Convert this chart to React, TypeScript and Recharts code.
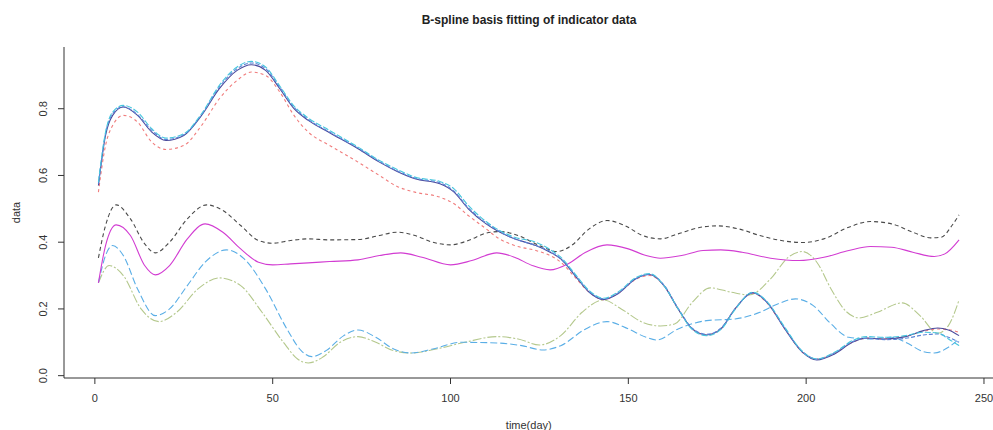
import { LineChart, Line, XAxis, YAxis } from "recharts";

// fitted curves, day -> value
const upperDays = [1, 3, 5, 8, 12, 16, 20, 25, 30, 35, 40, 44, 48, 52, 56, 60, 66, 74, 80, 85, 90, 97, 101, 105, 110, 113, 118, 124, 128, 131, 135, 139, 143, 147, 152, 156, 160, 164, 168, 172, 176, 180, 185, 189, 194, 199, 203, 208, 213, 217, 222, 228, 233, 237, 240, 243];
const navyVals = [0.57, 0.72, 0.78, 0.805, 0.78, 0.73, 0.705, 0.72, 0.78, 0.86, 0.915, 0.932, 0.915, 0.86, 0.8, 0.765, 0.728, 0.68, 0.64, 0.612, 0.59, 0.575, 0.55, 0.5, 0.455, 0.435, 0.41, 0.39, 0.37, 0.35, 0.3, 0.25, 0.228, 0.245, 0.29, 0.303, 0.27, 0.2, 0.14, 0.122, 0.14, 0.2, 0.249, 0.22, 0.14, 0.07, 0.047, 0.065, 0.1, 0.113, 0.11, 0.117, 0.135, 0.143, 0.137, 0.12];
const cyanVals = [0.58, 0.73, 0.79, 0.81, 0.79, 0.74, 0.712, 0.725, 0.785, 0.87, 0.925, 0.942, 0.925, 0.868, 0.808, 0.772, 0.735, 0.685, 0.645, 0.618, 0.595, 0.582, 0.56, 0.51, 0.462, 0.44, 0.415, 0.4, 0.378, 0.355, 0.305, 0.255, 0.232, 0.25, 0.293, 0.306, 0.27, 0.2, 0.138, 0.12, 0.138, 0.198, 0.25, 0.222, 0.145, 0.072, 0.05, 0.07, 0.105, 0.117, 0.115, 0.12, 0.13, 0.128, 0.11, 0.09];
const blueVals = [0.575, 0.725, 0.785, 0.806, 0.782, 0.735, 0.708, 0.722, 0.782, 0.865, 0.92, 0.937, 0.92, 0.864, 0.804, 0.768, 0.73, 0.682, 0.642, 0.614, 0.592, 0.578, 0.553, 0.503, 0.458, 0.437, 0.41, 0.39, 0.372, 0.35, 0.302, 0.252, 0.23, 0.247, 0.29, 0.304, 0.272, 0.202, 0.142, 0.124, 0.142, 0.2, 0.248, 0.22, 0.142, 0.072, 0.05, 0.068, 0.102, 0.112, 0.108, 0.112, 0.122, 0.125, 0.115, 0.1];
const pinkVals = [0.55, 0.69, 0.75, 0.78, 0.76, 0.7, 0.678, 0.69, 0.75, 0.83, 0.885, 0.91, 0.9, 0.85, 0.78, 0.73, 0.69, 0.64, 0.6, 0.567, 0.55, 0.535, 0.515, 0.48, 0.44, 0.415, 0.39, 0.375, 0.36, 0.34, 0.295, 0.25, 0.228, 0.246, 0.288, 0.3, 0.27, 0.2, 0.14, 0.122, 0.14, 0.2, 0.247, 0.218, 0.14, 0.07, 0.05, 0.068, 0.1, 0.112, 0.11, 0.118, 0.133, 0.14, 0.138, 0.13];

const blackDays = [1, 3, 6, 10, 14, 17, 21, 26, 31.5, 36, 41, 46, 50, 55, 60, 66, 74, 80, 85, 90, 95, 100, 105, 110, 114, 119, 125, 130, 134, 139, 144, 149, 154, 159, 164, 170, 175, 181, 187, 193, 199, 205, 212, 218, 224, 230, 235, 238, 241, 243];
const blackVals = [0.353, 0.45, 0.512, 0.47, 0.395, 0.368, 0.4, 0.47, 0.512, 0.495, 0.45, 0.405, 0.397, 0.405, 0.41, 0.407, 0.408, 0.42, 0.43, 0.42, 0.4, 0.392, 0.405, 0.427, 0.432, 0.42, 0.39, 0.372, 0.39, 0.44, 0.465, 0.45, 0.42, 0.41, 0.425, 0.444, 0.449, 0.44, 0.42, 0.405, 0.399, 0.41, 0.445, 0.462, 0.455, 0.43, 0.413, 0.415, 0.45, 0.482];

const magentaDays = [1, 3, 6, 10, 14, 17, 21, 26, 31, 36, 41, 46, 50, 55, 60, 66, 74, 80, 86, 92, 100, 106, 113, 118, 123, 128, 133, 138, 144, 150, 155, 159, 165, 171, 176, 182, 190, 198, 205, 212, 218, 224, 230, 236, 239, 243];
const magentaVals = [0.278, 0.39, 0.452, 0.42, 0.33, 0.302, 0.33, 0.41, 0.455, 0.43, 0.38, 0.34, 0.332, 0.335, 0.338, 0.342, 0.347, 0.36, 0.368, 0.355, 0.332, 0.345, 0.368, 0.355, 0.33, 0.317, 0.335, 0.37, 0.392, 0.38, 0.36, 0.352, 0.36, 0.375, 0.377, 0.37, 0.352, 0.345, 0.355, 0.375, 0.387, 0.385, 0.37, 0.357, 0.365, 0.407];

const greenDays = [1, 4, 8, 13, 18, 23, 29, 35, 41, 47, 53, 57, 60, 64, 69, 74, 79, 84, 89, 96, 104, 113, 119, 125, 131, 137, 143, 148, 154, 159, 163, 168, 173, 179, 184, 190, 195, 199, 203, 207, 211, 215, 220, 227, 232, 237, 240, 243];
const greenVals = [0.278, 0.33, 0.3, 0.2, 0.162, 0.19, 0.26, 0.293, 0.27, 0.19, 0.1, 0.05, 0.038, 0.055, 0.1, 0.117, 0.1, 0.075, 0.068, 0.08, 0.1, 0.117, 0.11, 0.092, 0.12, 0.19, 0.227, 0.2, 0.16, 0.149, 0.155, 0.22, 0.263, 0.25, 0.242, 0.29, 0.355, 0.372, 0.34, 0.26, 0.195, 0.173, 0.19, 0.218, 0.18, 0.127, 0.15, 0.227];

const lightDays = [1, 3, 5, 8, 12, 17, 21, 26, 31, 37, 42, 48, 54, 58, 61, 65, 70, 74, 79, 84, 89, 95, 103, 113, 120, 126, 131, 138, 144, 150, 155, 158, 164, 172, 180, 187, 192, 197, 202, 207, 212, 218, 224, 228, 233, 236, 240, 243];
const lightVals = [0.278, 0.36, 0.39, 0.36, 0.26, 0.18, 0.2, 0.27, 0.34, 0.377, 0.35, 0.26, 0.14, 0.075, 0.057, 0.075, 0.12, 0.137, 0.115, 0.08, 0.068, 0.08, 0.1, 0.098, 0.09, 0.077, 0.09, 0.14, 0.162, 0.14, 0.115, 0.107, 0.14, 0.165, 0.17, 0.19, 0.215, 0.23, 0.21, 0.155, 0.115, 0.11, 0.115, 0.1, 0.072, 0.068, 0.085, 0.11];

const xTicks = [0, 50, 100, 150, 200, 250];
const yTicks = [0, 0.2, 0.4, 0.6, 0.8];

const toPoints = (days: number[], vals: number[]) => days.map((d, i) => ({ day: d, v: vals[i] }));

const series = [
  { key: "green", data: toPoints(greenDays, greenVals), color: "#b4c88c", dash: "9 2 2 2" },
  { key: "light", data: toPoints(lightDays, lightVals), color: "#5aaee6", dash: "7 3" },
  { key: "black", data: toPoints(blackDays, blackVals), color: "#4a4a4a", dash: "4 3" },
  { key: "magenta", data: toPoints(magentaDays, magentaVals), color: "#d23cd2", dash: undefined },
  { key: "pink", data: toPoints(upperDays, pinkVals), color: "#f07c7c", dash: "3 3" },
  { key: "navy", data: toPoints(upperDays, navyVals), color: "#4a4a9c", dash: undefined },
  { key: "blue", data: toPoints(upperDays, blueVals), color: "#5a82d6", dash: "4 2" },
  { key: "cyan", data: toPoints(upperDays, cyanVals), color: "#46c6de", dash: "6 2" },
];

const FONT = "'Liberation Sans', Arial, sans-serif";

const XTick = ({ x, y, payload }: any) => (
  <text x={x} y={y + 16} textAnchor="middle" fontSize={11} fontFamily={FONT} fill="#333">
    {payload.value}
  </text>
);

const YTick = ({ y, payload }: any) => (
  <text x={47} y={y} transform={`rotate(-90 47 ${y})`} textAnchor="middle" fontSize={11} fontFamily={FONT} fill="#333">
    {Number(payload.value).toFixed(1)}
  </text>
);

export default function App() {
  return (
    <div style={{ position: "absolute", left: 0, top: 0, width: 993, height: 430, overflow: "hidden", background: "#fff" }}>
      <div style={{ position: "absolute", left: 64, width: 930, top: 13, textAlign: "center", fontFamily: FONT, fontWeight: "bold", fontSize: 12, color: "#222" }}>
        B-spline basis fitting of indicator data
      </div>
      <LineChart width={1000} height={430} margin={{ top: 47, right: 6.5, bottom: 0, left: 0 }}>
        <XAxis
          type="number"
          dataKey="day"
          domain={[-8.68, 252.68]}
          allowDataOverflow
          ticks={xTicks}
          height={52}
          tickSize={6}
          tick={<XTick />}
          stroke="#333"
          label={{
            content: ({ viewBox }: any) => (
              <text x={viewBox.x + viewBox.width / 2} y={viewBox.y + 51} textAnchor="middle" fontSize={11} fontFamily={FONT} fill="#333">
                time(day)
              </text>
            ),
          }}
        />
        <YAxis
          type="number"
          domain={[-0.007, 0.985]}
          allowDataOverflow
          ticks={yTicks}
          width={64}
          tickSize={6}
          tick={<YTick />}
          stroke="#333"
          label={{
            content: ({ viewBox }: any) => {
              const cy = viewBox.y + viewBox.height / 2;
              return (
                <text x={20} y={cy} transform={`rotate(-90 20 ${cy})`} textAnchor="middle" fontSize={11} fontFamily={FONT} fill="#333">
                  data
                </text>
              );
            },
          }}
        />
        {series.map((s) => (
          <Line
            key={s.key}
            data={s.data}
            dataKey="v"
            type="monotone"
            stroke={s.color}
            strokeWidth={1.1}
            strokeDasharray={s.dash}
            dot={false}
            isAnimationActive={false}
          />
        ))}
      </LineChart>
    </div>
  );
}
